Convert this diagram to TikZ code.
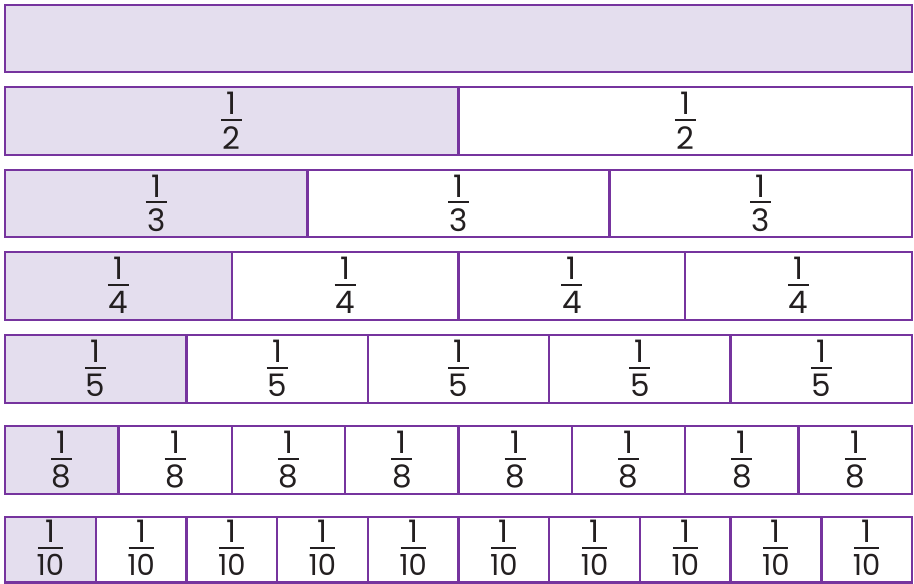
\documentclass[tikz,border=0pt]{standalone}
\usepackage{fontspec}
\setmainfont{Poppins}
\definecolor{barpurple}{RGB}{118,52,158}
\definecolor{barfill}{RGB}{228,222,238}
\definecolor{ink}{RGB}{35,31,32}
\begin{document}
\begin{tikzpicture}[x=1pt,y=1pt,
  cellbox/.style={draw=barpurple,line width=2.4pt,inner sep=0pt,outer sep=0pt},
  digit/.style={font=\fontsize{31}{33}\selectfont,inner sep=0pt,text=ink},
  smalldigit/.style={font=\fontsize{29}{31}\selectfont,inner sep=0pt,text=ink},
  fracbar/.style={draw=ink,line width=2pt}]
\useasboundingbox (0,0) rectangle (914,584);
\foreach \n/\t/\b [count=\r] in {1/5/72,2/87/155,3/170/237,4/252/320,5/335/403,8/426/494,10/517/582.5}{
  \pgfmathsetmacro\w{907/\n}
  \pgfmathsetmacro\h{\b-\t}
  \pgfmathsetmacro\cy{584-(\t+\b)/2}
  \pgfmathsetmacro\by{\n==10 ? \cy+2 : \cy+1}
  \pgfmathsetmacro\hw{\n==10 ? 12.5 : 10.5}
  \foreach \k in {1,...,\n}{
    \pgfmathsetmacro\cx{5+(\k-0.5)*\w}
    \ifnum\k=1 \def\fc{barfill}\else\def\fc{white}\fi
    \node[cellbox,fill=\fc,minimum width=\w pt,minimum height=\h pt] (c-\r-\k) at (\cx,\cy) {};
    \ifnum\n>1
      \node[digit,anchor=south] (num-\r-\k) at (\cx,\by+5) {1};
      \ifnum\n=10
        \node[smalldigit,anchor=north] (den-\r-\k) at (\cx,\by-6) {\n};
      \else
        \node[digit,anchor=north] (den-\r-\k) at (\cx,\by-6) {\n};
      \fi
      \coordinate (bl-\r-\k) at (\cx-\hw,\by);
      \coordinate (br-\r-\k) at (\cx+\hw,\by);
      \draw[fracbar] (bl-\r-\k) -- (br-\r-\k);
    \fi
  }
}
\end{tikzpicture}
\end{document}
